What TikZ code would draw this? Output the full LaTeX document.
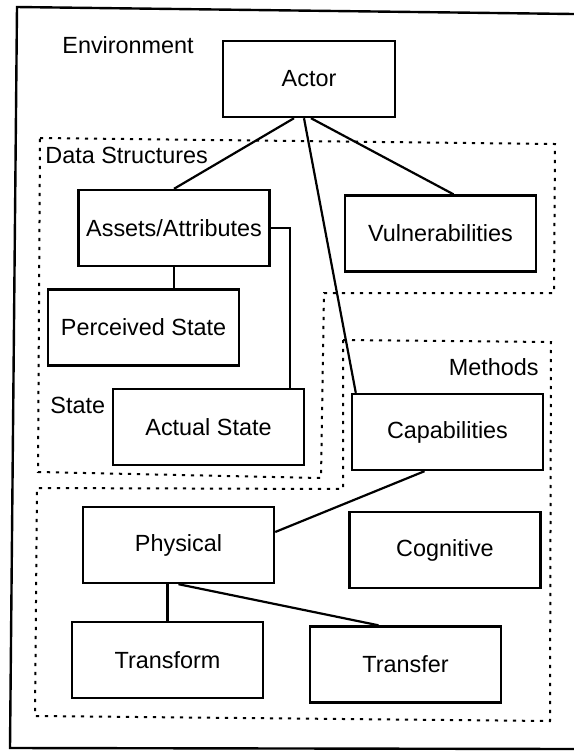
\documentclass[tikz,border=0pt]{standalone}
\usepackage{fontspec}
\setmainfont{Liberation Sans}
\usetikzlibrary{calc}
\tikzset{
  blk/.style={draw, line width=1.2pt,
              minimum width=95.5pt, minimum height=38pt,
              inner sep=0pt, font=\fontsize{11.7}{14}\selectfont},
  lbl/.style={inner sep=0pt, font=\fontsize{11.7}{14}\selectfont},
  conn/.style={line width=1.1pt},
  region/.style={line width=1pt, dash pattern=on 1.6pt off 2.9pt},
}
\begin{document}
\begin{tikzpicture}[x=0.5pt, y=-0.5pt]
\useasboundingbox (0,0) rectangle (574,752);
\draw[line width=1.2pt] (574,14) -- (17,7) -- (10,748) -- (574,749);

\draw[region] (40,138) -- (555,144) -- (554,293) -- (324,293) -- (321,478) -- (38,472) -- cycle;
\draw[region] (343,340) -- (551,342) -- (550,721) -- (35,716) -- (37,488) -- (343,489) -- cycle;

\node[lbl, anchor=west] (env)   at (62,45)   {Environment};
\node[lbl, anchor=west] (data)  at (45,155)  {Data Structures};
\node[lbl, anchor=west] (state) at (50,405)  {State};
\node[lbl, anchor=east] (meth)  at (539,367) {Methods};

\node[blk, minimum width=86pt] (actor) at (309,79) {Actor};
\node[blk] (assets) at (174,228)   {Assets/Attributes};
\node[blk] (vuln)   at (440.5,233.5) {Vulnerabilities};
\node[blk] (perc)   at (143.5,327.5) {Perceived State};
\node[blk] (actual) at (208.5,427) {Actual State};
\node[blk] (capab)  at (447.5,432) {Capabilities};
\node[blk] (phys)   at (178.5,545) {Physical};
\node[blk] (cogn)   at (445,550)   {Cognitive};
\node[blk] (trfm)   at (167.5,660) {Transform};
\node[blk] (trfr)   at (405.5,664.5) {Transfer};

\draw[conn] ($(actor.south)+(-15,0)$) -- (assets.north);
\draw[conn] ($(actor.south)+(-5,0)$) -- ($(capab.north west)+(5,0)$);
\draw[conn] ($(actor.south)+(2,0)$) -- ($(vuln.north)+(13,0)$);
\draw[conn] (assets.south) -- (assets.south |- perc.north);
\draw[conn] (assets.east) -| ($(actual.north east)+(-15,0)$);
\draw[conn] ($(capab.south)+(8,0)$) -- ($(capab.south)+(8,0)$ |- cogn.north);
\draw[conn] ($(capab.south)+(-23,0)$) -- ($(phys.east)+(0,-13)$);
\draw[conn] (trfm.north) -- (trfm.north |- phys.south);
\draw[conn] (phys.south) -- ($(trfr.north)+(-27,0)$);
\end{tikzpicture}
\end{document}
